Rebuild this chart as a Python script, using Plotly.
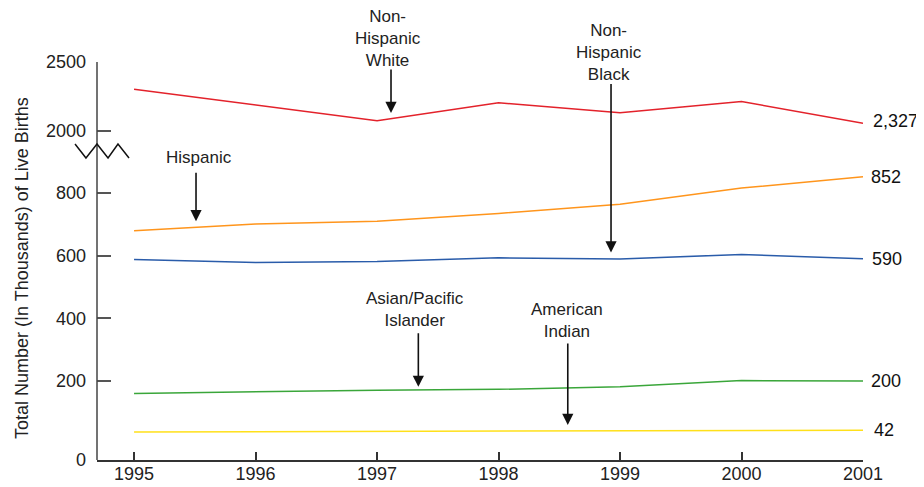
import plotly.graph_objects as go

# ---------------- data ----------------
years = [1995, 1996, 1997, 1998, 1999, 2000, 2001]
# Non-Hispanic White is drawn on the broken upper scale (values as drawn)
nh_white = [2302, 2190, 2074, 2205, 2133, 2214, 2056]
hispanic = [680, 701, 710, 735, 764, 816, 852]
nh_black = [588, 578, 581, 593, 589, 604, 590]
asian_pi = [160, 166, 170, 173, 181, 201, 200]
am_indian = [37, 38, 39, 40, 40, 42, 42]

series_names = ["Non-Hispanic White", "Hispanic", "Non-Hispanic Black",
                "Asian/Pacific Islander", "American Indian"]
end_labels = ["2,327", "852", "590", "200", "42"]

upper_ticks = [2000, 2500]
lower_ticks = [200, 400, 600, 800]
bottom_ticks = [0]

y_title = "Total Number (In Thousands) of Live Births"

# ---------------- layout geometry (page pixels) ----------------
PAGE_W, PAGE_H = 924, 487
OFF = 8  # default body margin of the html page
X0, X1, Y0, Y1 = 97, 863, 62, 460  # plot area in page pixels
W, H = PAGE_W - OFF, PAGE_H - OFF
L, T = X0 - OFF, Y0 - OFF
R, B = W - (X1 - OFF), H - (Y1 - OFF)
PW, PH = X1 - X0, Y1 - Y0


def px(xpix):
    return (xpix - X0) / PW


def py(ypix):
    return (Y1 - ypix) / PH


FONT = "Liberation Sans, Arial, sans-serif"
colors = ["#e3222b", "#ff951c", "#2a5caa", "#3aa63a", "#ffe01a"]

fig = go.Figure()

data_sets = [nh_white, hispanic, nh_black, asian_pi, am_indian]
yaxes = ["y2", "y", "y", "y", "y"]
for name, vals, col, ya in zip(series_names, data_sets, colors, yaxes):
    fig.add_trace(go.Scatter(x=years, y=vals, mode="lines", name=name,
                             line=dict(color=col, width=1.5),
                             xaxis="x", yaxis=ya, showlegend=False,
                             hoverinfo="x+y+name"))
# empty trace so the bottom (zero) axis segment is created
fig.add_trace(go.Scatter(x=[None], y=[None], xaxis="x", yaxis="y3",
                         mode="lines", showlegend=False, hoverinfo="skip"))

tick_style = dict(ticks="inside", ticklen=14, tickwidth=1.5, tickcolor="#555",
                  showgrid=False, zeroline=False, showline=False,
                  tickfont=dict(family=FONT, size=18, color="#222"),
                  ticklabelstandoff=10, anchor="x", automargin=False)

fig.update_layout(
    width=W, height=H,
    margin=dict(l=L, r=R, t=T, b=B, autoexpand=False),
    plot_bgcolor="white", paper_bgcolor="white",
    xaxis=dict(range=[1994.695, 2001], domain=[0, 1], anchor="y3",
               tickvals=years, ticks="inside", ticklen=8, tickwidth=1.5,
               tickcolor="#333", showline=True, linecolor="#333", linewidth=2,
               showgrid=False, zeroline=False, automargin=False,
               tickfont=dict(family=FONT, size=18, color="#222"),
               ticklabelstandoff=-4),
    yaxis=dict(domain=[py(437), py(160)], range=[20.8, 905.6],
               tickvals=lower_ticks, **tick_style),
    yaxis2=dict(domain=[py(150), 1], range=[1862.3, 2500],
                tickvals=upper_ticks, **tick_style),
    yaxis3=dict(domain=[0, py(437)], range=[0, 10], tickvals=bottom_ticks,
                ticks="", showgrid=False, zeroline=False, showline=False,
                tickfont=dict(family=FONT, size=18, color="#222"),
                ticklabelstandoff=10, anchor="x", automargin=False),
)

# continuous y axis line + break zigzag
shapes = [dict(type="line", xref="paper", yref="paper", x0=0, x1=0, y0=0, y1=1,
               line=dict(color="#444", width=1.5))]
zig = [(75, 144), (86, 158), (97, 144), (108, 158), (118, 144), (129, 158)]
path = "M " + " L ".join(f"{px(a):.4f},{py(b):.4f}" for a, b in zig)
shapes.append(dict(type="path", xref="paper", yref="paper", path=path,
                   line=dict(color="#111", width=1.5)))
fig.update_layout(shapes=shapes)

annotations = []
# y title
annotations.append(dict(text=y_title, xref="paper", yref="paper",
                        x=px(22), y=py(268), textangle=-90, showarrow=False,
                        xanchor="center", yanchor="middle",
                        font=dict(family=FONT, size=18, color="#222")))

# series labels (text)
label_text = ["Non-<br>Hispanic<br>White", "Hispanic", "Non-<br>Hispanic<br>Black",
              "Asian/Pacific<br>Islander", "American<br>Indian"]
label_pos = [(388, 39), (199, 157), (609, 52), (415, 309), (567, 320)]
for t, (a, b) in zip(label_text, label_pos):
    annotations.append(dict(text=t, xref="paper", yref="paper", x=px(a), y=py(b),
                            showarrow=False, xanchor="center", yanchor="middle",
                            font=dict(family=FONT, size=17, color="#222")))

# arrows (tip in data coordinates, tail offset in pixels)
arrows = [  # (x, y, yref, length)
    (1997.115, 2130, "y2", 45),
    (1995.51, 710, "y", 50),
    (1998.926, 610, "y", 170),
    (1997.34, 181, "y", 55),
    (1998.57, 59, "y", 83),
]
for x, y, yr, ln in arrows:
    annotations.append(dict(text="", x=x, y=y, xref="x", yref=yr,
                            showarrow=True, ax=0, ay=-ln, arrowhead=2,
                            arrowsize=1.4, arrowwidth=1.6, arrowcolor="#111",
                            standoff=0))

# end-of-line value labels
end_vals = [v[-1] for v in data_sets]
end_yref = yaxes
end_shift = [(8, 2), (6, 0), (7, 0), (6, 0), (9, 0)]
for txt, v, yr, (xs, ys) in zip(end_labels, end_vals, end_yref, end_shift):
    annotations.append(dict(text=txt, x=years[-1], y=v, xref="x", yref=yr,
                            showarrow=False, xanchor="left", yanchor="middle",
                            xshift=xs, yshift=ys,
                            font=dict(family=FONT, size=18, color="#111")))

fig.update_layout(annotations=annotations)

fig.write_html("out.html")
